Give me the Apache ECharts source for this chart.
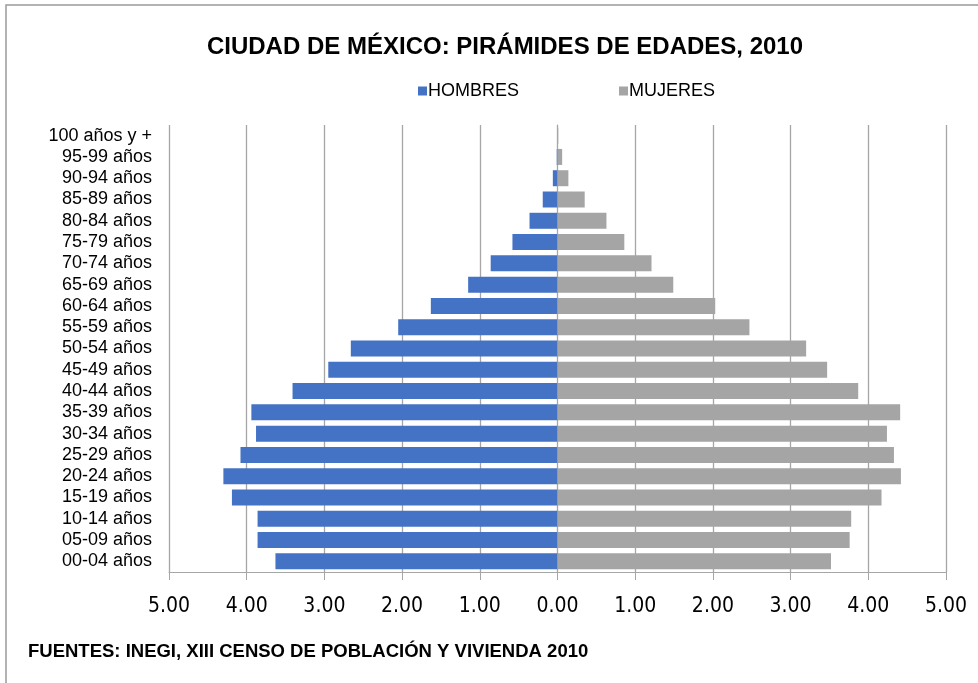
<!DOCTYPE html>
<html>
<head>
<meta charset="utf-8">
<script src="https://cdn.jsdelivr.net/npm/echarts@6/dist/echarts.min.js"></script>
<style>
  html, body { margin: 0; padding: 0; background: #fff; }
  #main { width: 978px; height: 683px; }
</style>
</head>
<body>
<div id="main"></div>
<script>
// grupos de edad, de abajo hacia arriba
var edades = ['00-04 años', '05-09 años', '10-14 años', '15-19 años', '20-24 años',
  '25-29 años', '30-34 años', '35-39 años', '40-44 años', '45-49 años', '50-54 años',
  '55-59 años', '60-64 años', '65-69 años', '70-74 años', '75-79 años', '80-84 años',
  '85-89 años', '90-94 años', '95-99 años', '100 años y +'];
// porcentajes (hombres se dibujan a la izquierda)
var hombres = [3.63, 3.86, 3.86, 4.19, 4.30, 4.08, 3.88, 3.94, 3.41, 2.95, 2.66,
  2.05, 1.63, 1.15, 0.86, 0.58, 0.36, 0.19, 0.06, 0.01, 0.00];
var mujeres = [3.52, 3.76, 3.78, 4.17, 4.42, 4.33, 4.24, 4.41, 3.87, 3.47, 3.20,
  2.47, 2.03, 1.49, 1.21, 0.86, 0.63, 0.35, 0.14, 0.06, 0.01];
var ticksX = [-5, -4, -3, -2, -1, 0, 1, 2, 3, 4, 5];

var hombresNeg = hombres.map(function (v) { return -v; });

var myChart = echarts.init(document.getElementById('main'));
myChart.setOption({
  animation: false,
  backgroundColor: '#fff',
  title: {
    text: 'CIUDAD DE MÉXICO: PIRÁMIDES DE EDADES, 2010',
    left: 500, top: 30, textAlign: 'center',
    textStyle: { fontFamily: 'Liberation Sans', fontSize: 24, fontWeight: 'bold', color: '#000' }
  },
  legend: {
    top: 77, left: 413,
    itemWidth: 9, itemHeight: 9, itemGap: 100,
    icon: 'rect',
    textStyle: { fontFamily: 'Liberation Sans', fontSize: 18, color: '#000', padding: [0, 0, 0, -4] },
    data: ['HOMBRES', 'MUJERES']
  },
  grid: { left: 169, right: 32, top: 125, bottom: 111 },
  xAxis: {
    type: 'value', min: ticksX[0], max: ticksX[ticksX.length - 1], interval: 1,
    axisLine: { show: true, lineStyle: { color: '#a6a6a6' } },
    axisTick: { show: true, length: 8, lineStyle: { color: '#a6a6a6' } },
    splitLine: { show: true, lineStyle: { color: '#a6a6a6', width: 1.3 } },
    axisLabel: {
      margin: 24, fontSize: 21, color: '#000',
      fontFamily: "'DejaVu Sans Condensed', 'Liberation Sans Narrow', sans-serif",
      formatter: function (v) { return Math.abs(v).toFixed(2); }
    }
  },
  yAxis: {
    type: 'category', data: edades,
    axisLine: { show: true, onZero: true, lineStyle: { color: '#a6a6a6' } },
    axisTick: { show: false },
    axisLabel: { interval: 0, margin: 17, fontSize: 18, color: '#000', fontFamily: 'Liberation Sans' }
  },
  series: [
    {
      name: 'HOMBRES', type: 'bar', stack: 'pop', barWidth: 16,
      itemStyle: { color: '#4472C4' }, data: hombresNeg
    },
    {
      name: 'MUJERES', type: 'bar', stack: 'pop', barWidth: 16,
      itemStyle: { color: '#A5A5A5' }, data: mujeres
    }
  ],
  graphic: [
    {
      type: 'rect', shape: { x: 6, y: 5, width: 1000, height: 700 },
      style: { fill: 'none', stroke: '#9a9a9a', lineWidth: 1.5 }, silent: true
    },
    {
      type: 'text', left: 28, top: 642,
      style: {
        text: 'FUENTES: INEGI, XIII CENSO DE POBLACIÓN Y VIVIENDA 2010',
        fontFamily: 'Liberation Sans', fontSize: 18.5, fontWeight: 'bold', fill: '#000'
      }
    }
  ]
});
</script>
</body>
</html>
